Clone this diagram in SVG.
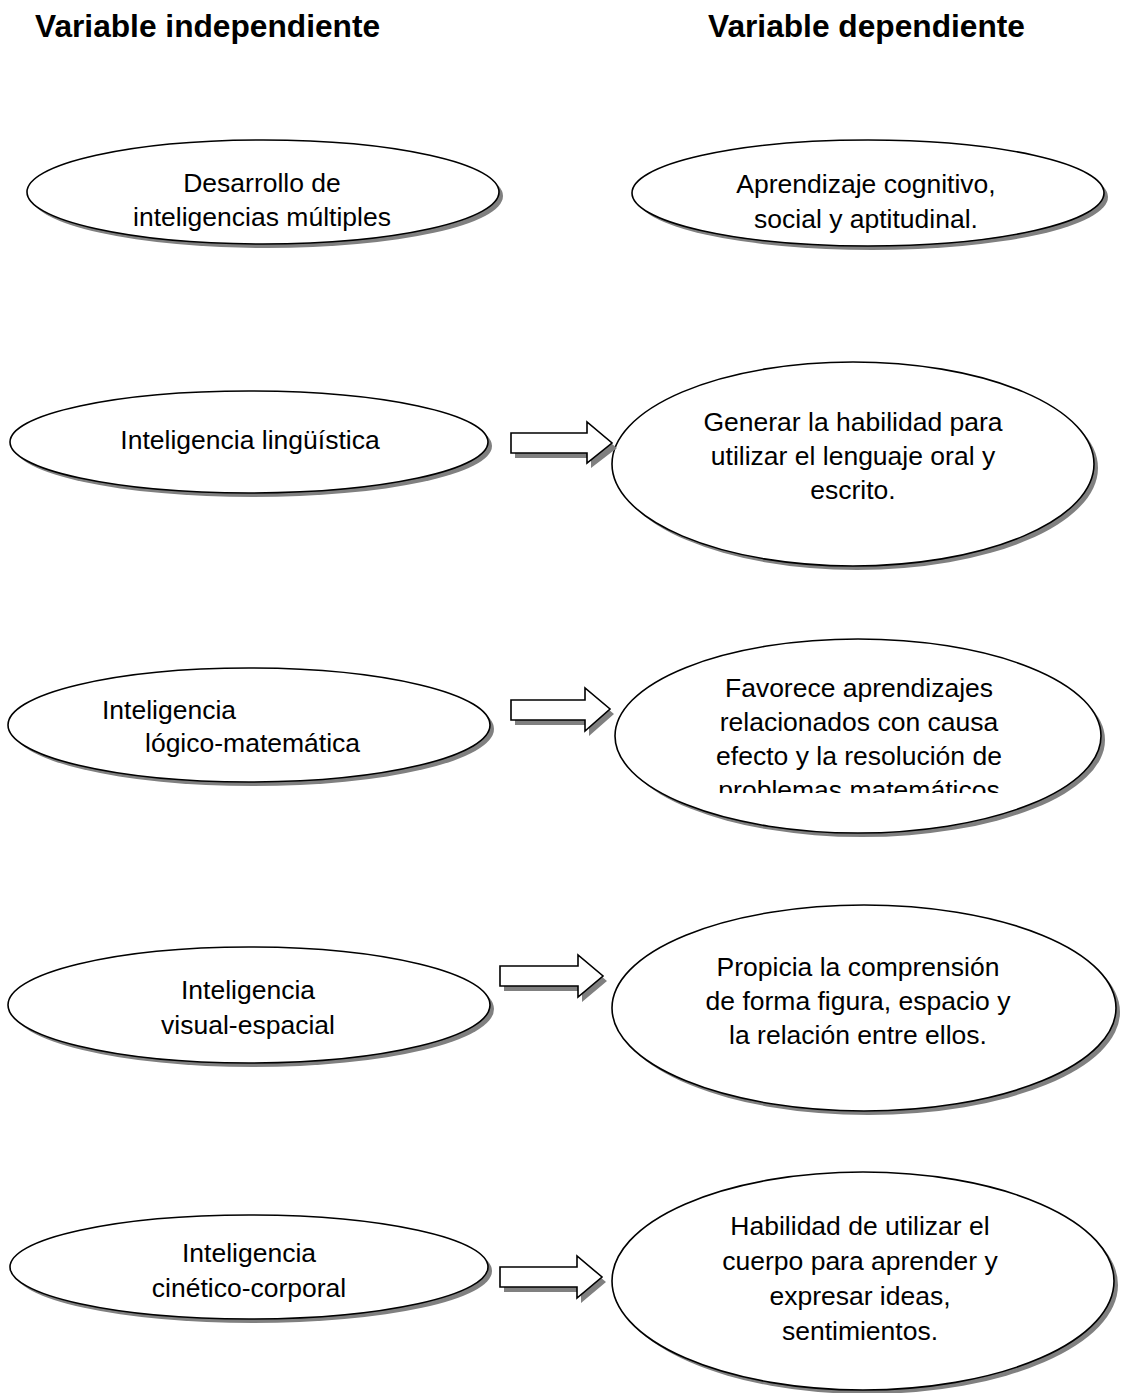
<svg xmlns="http://www.w3.org/2000/svg" width="1126" height="1393" viewBox="0 0 1126 1393">
<style>
  .sh { fill: #808080; stroke: none; }
  .el { fill: #ffffff; stroke: #000000; stroke-width: 1.6; }
  .ar { fill: #ffffff; stroke: #000000; stroke-width: 1.6; stroke-linejoin: miter; }
  .t { font-family: "Liberation Sans", Arial, sans-serif; font-size: 26.5px; fill: #000000; text-anchor: middle; }
  .tl { font-family: "Liberation Sans", Arial, sans-serif; font-size: 26.5px; fill: #000000; }
  .h { font-family: "Liberation Sans", Arial, sans-serif; font-size: 31.7px; font-weight: bold; fill: #000000; }
</style>
<defs>
  <clipPath id="clipR3"><rect x="600" y="600" width="520" height="193"/></clipPath>
</defs>
<rect x="0" y="0" width="1126" height="1393" fill="#ffffff"/>

<g id="headings">
  <text class="h" x="35" y="37">Variable independiente</text>
  <text class="h" x="708" y="37">Variable dependiente</text>
</g>

<g id="L1">
  <ellipse class="sh" cx="267" cy="196" rx="236" ry="52"/>
  <ellipse class="el" cx="263" cy="192" rx="236" ry="52"/>
  <text class="t" x="262" y="192">Desarrollo de</text>
  <text class="t" x="262" y="226">inteligencias múltiples</text>
</g>

<g id="R1">
  <ellipse class="sh" cx="872" cy="197" rx="236" ry="53"/>
  <ellipse class="el" cx="868" cy="193" rx="236" ry="53"/>
  <text class="t" x="866" y="193">Aprendizaje cognitivo,</text>
  <text class="t" x="866" y="228">social y aptitudinal.</text>
</g>

<g id="L2">
  <ellipse class="sh" cx="253" cy="446" rx="239" ry="51"/>
  <ellipse class="el" cx="249" cy="442" rx="239" ry="51"/>
  <text class="t" x="250" y="449">Inteligencia lingüística</text>
</g>

<g id="R2">
  <ellipse class="sh" cx="857" cy="468" rx="241" ry="102"/>
  <ellipse class="el" cx="853" cy="464" rx="241" ry="102"/>
  <text class="t" x="853" y="431">Generar la habilidad para</text>
  <text class="t" x="853" y="465">utilizar el lenguaje oral y</text>
  <text class="t" x="853" y="499">escrito.</text>
</g>

<g id="L3">
  <ellipse class="sh" cx="253" cy="729" rx="241" ry="57"/>
  <ellipse class="el" cx="249" cy="725" rx="241" ry="57"/>
  <text class="tl" x="102" y="719">Inteligencia</text>
  <text class="tl" x="145" y="752">lógico-matemática</text>
</g>

<g id="R3">
  <ellipse class="sh" cx="862" cy="740" rx="243" ry="97"/>
  <ellipse class="el" cx="858" cy="736" rx="243" ry="97"/>
  <g clip-path="url(#clipR3)">
    <text class="t" x="859" y="697">Favorece aprendizajes</text>
    <text class="t" x="859" y="731">relacionados con causa</text>
    <text class="t" x="859" y="765">efecto y la resolución de</text>
    <text class="t" x="859" y="799">problemas matemáticos</text>
  </g>
</g>

<g id="L4">
  <ellipse class="sh" cx="253" cy="1009" rx="241" ry="58"/>
  <ellipse class="el" cx="249" cy="1005" rx="241" ry="58"/>
  <text class="t" x="248" y="999">Inteligencia</text>
  <text class="t" x="248" y="1034">visual-espacial</text>
</g>

<g id="R4">
  <ellipse class="sh" cx="868" cy="1012" rx="252" ry="103"/>
  <ellipse class="el" cx="864" cy="1008" rx="252" ry="103"/>
  <text class="t" x="858" y="976">Propicia la comprensión</text>
  <text class="t" x="858" y="1010">de forma figura, espacio y</text>
  <text class="t" x="858" y="1044">la relación entre ellos.</text>
</g>

<g id="L5">
  <ellipse class="sh" cx="253" cy="1271" rx="239" ry="52"/>
  <ellipse class="el" cx="249" cy="1267" rx="239" ry="52"/>
  <text class="t" x="249" y="1262">Inteligencia</text>
  <text class="t" x="249" y="1297">cinético-corporal</text>
</g>

<g id="R5">
  <ellipse class="sh" cx="867" cy="1285" rx="251" ry="109"/>
  <ellipse class="el" cx="863" cy="1281" rx="251" ry="109"/>
  <text class="t" x="860" y="1235">Habilidad de utilizar el</text>
  <text class="t" x="860" y="1270">cuerpo para aprender y</text>
  <text class="t" x="860" y="1305">expresar ideas,</text>
  <text class="t" x="860" y="1340">sentimientos.</text>
</g>

<g id="connectors">
  <g id="A2">
    <polygon class="sh" points="515,438 591,438 591,427 617,448 591,468 591,458 515,458"/>
    <polygon class="ar" points="511,433 587,433 587,422 612,443 587,463 587,453 511,453"/>
  </g>
  <g id="A3">
    <polygon class="sh" points="515,705 589,705 589,693 614,714 589,736 589,725 515,725"/>
    <polygon class="ar" points="511,700 585,700 585,688 610,709 585,731 585,720 511,720"/>
  </g>
  <g id="A4">
    <polygon class="sh" points="504,971 582,971 582,960 607,981 582,1002 582,991 504,991"/>
    <polygon class="ar" points="500,966 578,966 578,955 603,976 578,997 578,986 500,986"/>
  </g>
  <g id="A5">
    <polygon class="sh" points="504,1272 581,1272 581,1261 606,1282 581,1303 581,1292 504,1292"/>
    <polygon class="ar" points="500,1267 577,1267 577,1256 602,1277 577,1298 577,1287 500,1287"/>
  </g>
</g>
</svg>
